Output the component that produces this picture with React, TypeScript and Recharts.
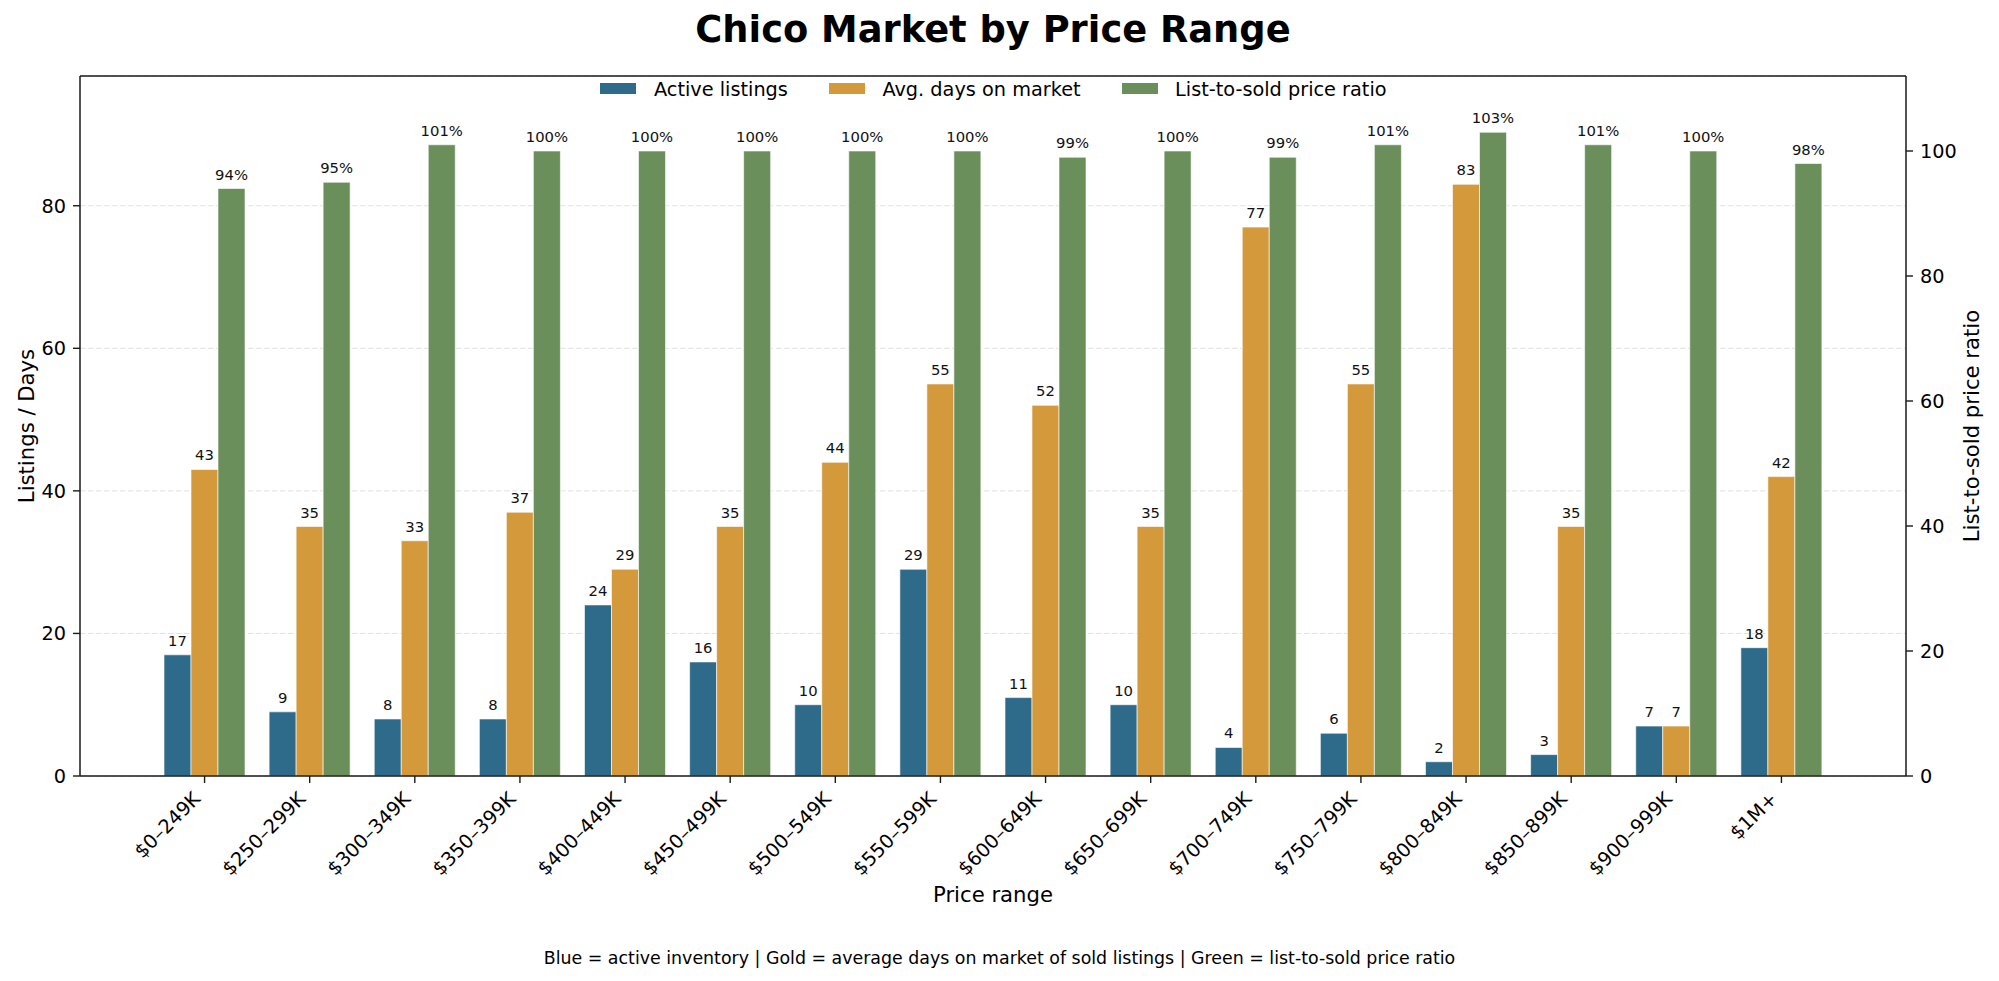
import { BarChart, Bar, XAxis, YAxis, CartesianGrid, LabelList, ReferenceLine } from 'recharts';

const PRICE_RANGES = [
  '$0–249K', '$250–299K', '$300–349K', '$350–399K', '$400–449K', '$450–499K',
  '$500–549K', '$550–599K', '$600–649K', '$650–699K', '$700–749K', '$750–799K',
  '$800–849K', '$850–899K', '$900–999K', '$1M+',
];
const ACTIVE_LISTINGS = [17, 9, 8, 8, 24, 16, 10, 29, 11, 10, 4, 6, 2, 3, 7, 18];
const AVG_DAYS = [43, 35, 33, 37, 29, 35, 44, 55, 52, 35, 77, 55, 83, 35, 7, 42];
const PRICE_RATIO = [94, 95, 101, 100, 100, 100, 100, 100, 99, 100, 99, 101, 103, 101, 100, 98];

const LEFT_TICKS = [0, 20, 40, 60, 80];
const RIGHT_TICKS = [0, 20, 40, 60, 80, 100];
const LEFT_MAX = 98.2;
const RIGHT_MAX = 112;

const SERIES = [
  { key: 'active', name: 'Active listings', color: '#2e6b8a', axis: 'left', suffix: '' },
  { key: 'days', name: 'Avg. days on market', color: '#d4993a', axis: 'left', suffix: '' },
  { key: 'ratio', name: 'List-to-sold price ratio', color: '#6a8f5b', axis: 'right', suffix: '%' },
];

const FONT = '"DejaVu Sans", sans-serif';
const SPINE = '#1a1a1a';

const RotatedTick = ({ x, y, payload }: any) => {
  const ax = x - 3;
  const ay = y + 17;
  return (
    <text
      x={ax}
      y={ay}
      textAnchor="end"
      fontSize={19.3}
      fill="#000"
      transform={`rotate(-45, ${ax}, ${ay})`}
    >
      {payload.value}
    </text>
  );
};

export default function App() {
  const data = PRICE_RANGES.map((range, i) => ({
    range,
    active: ACTIVE_LISTINGS[i],
    days: AVG_DAYS[i],
    ratio: PRICE_RATIO[i],
  }));

  return (
    <div
      style={{
        position: 'absolute',
        left: 0,
        top: 0,
        width: 1999,
        height: 981,
        background: '#fff',
        fontFamily: FONT,
        color: '#000',
      }}
    >
      <div
        style={{
          position: 'absolute',
          left: 0,
          width: 1986,
          top: 11.8,
          textAlign: 'center',
          fontSize: 36.8,
          fontWeight: 'bold',
          lineHeight: 1,
          whiteSpace: 'nowrap',
        }}
      >
        Chico Market by Price Range
      </div>

      <BarChart
        width={1999}
        height={981}
        data={data}
        margin={{ top: 76, right: 0, bottom: 85, left: 0 }}
        barGap={0}
        barSize={27}
      >
        <CartesianGrid
          yAxisId="left"
          vertical={false}
          stroke="#e2e2e2"
          strokeDasharray="5.5 2.5"
        />
        <XAxis
          dataKey="range"
          height={120}
          interval={0}
          padding={{ left: 72, right: 72 }}
          tickSize={7}
          tickMargin={0}
          tick={<RotatedTick />}
          tickLine={{ stroke: SPINE, strokeWidth: 1.4 }}
          axisLine={{ stroke: SPINE, strokeWidth: 1.5 }}
        />
        <YAxis
          yAxisId="left"
          width={80}
          domain={[0, LEFT_MAX]}
          ticks={LEFT_TICKS}
          tickSize={7}
          tickMargin={7}
          tick={{ fontSize: 19.3, fill: '#000' }}
          tickLine={{ stroke: SPINE, strokeWidth: 1.4 }}
          axisLine={{ stroke: SPINE, strokeWidth: 1.5 }}
        />
        <YAxis
          yAxisId="right"
          orientation="right"
          width={93}
          domain={[0, RIGHT_MAX]}
          ticks={RIGHT_TICKS}
          tickSize={7}
          tickMargin={7}
          tick={{ fontSize: 19.3, fill: '#000' }}
          tickLine={{ stroke: SPINE, strokeWidth: 1.4 }}
          axisLine={{ stroke: SPINE, strokeWidth: 1.5 }}
        />
        {/* top spine of the frame */}
        <ReferenceLine yAxisId="left" y={LEFT_MAX} stroke={SPINE} strokeWidth={1.5} />

        {SERIES.map((s) => (
          <Bar
            key={s.key}
            dataKey={s.key}
            name={s.name}
            yAxisId={s.axis}
            fill={s.color}
            stroke="#ffffff"
            strokeWidth={0.6}
            isAnimationActive={false}
          >
            <LabelList
              dataKey={s.key}
              position="top"
              offset={9}
              fontSize={14.8}
              fill="#111"
              formatter={(v: any) => `${v}${s.suffix}`}
            />
          </Bar>
        ))}
      </BarChart>

      {/* legend, upper centre inside the frame */}
      <div
        style={{
          position: 'absolute',
          left: 80,
          width: 1826,
          top: 77.8,
          display: 'flex',
          justifyContent: 'center',
          fontSize: 19.3,
          whiteSpace: 'nowrap',
        }}
      >
        {SERIES.map((s, i) => (
          <div
            key={s.key}
            style={{ display: 'flex', alignItems: 'flex-start', marginLeft: i === 0 ? 0 : 40 }}
          >
            <div
              style={{
                width: 38,
                height: 13.5,
                marginTop: 4,
                marginRight: 16.5,
                background: s.color,
                boxSizing: 'border-box',
                border: '0.6px solid #fff',
              }}
            />
            <span>{s.name}</span>
          </div>
        ))}
      </div>

      <div
        style={{
          position: 'absolute',
          left: 80,
          width: 1826,
          top: 884,
          textAlign: 'center',
          fontSize: 21.2,
          lineHeight: 1,
        }}
      >
        Price range
      </div>

      <div
        style={{
          position: 'absolute',
          left: 26.5,
          top: 426,
          transform: 'translate(-50%, -50%) rotate(-90deg)',
          fontSize: 21.2,
          lineHeight: 1,
          whiteSpace: 'nowrap',
        }}
      >
        Listings / Days
      </div>

      <div
        style={{
          position: 'absolute',
          left: 1972,
          top: 426,
          transform: 'translate(-50%, -50%) rotate(-90deg)',
          fontSize: 21.2,
          lineHeight: 1,
          whiteSpace: 'nowrap',
        }}
      >
        List-to-sold price ratio
      </div>

      <div
        style={{
          position: 'absolute',
          left: 0,
          width: 1999,
          top: 950.3,
          textAlign: 'center',
          fontSize: 17.4,
          lineHeight: 1,
          whiteSpace: 'nowrap',
        }}
      >
        Blue = active inventory | Gold = average days on market of sold listings | Green = list-to-sold price ratio
      </div>
    </div>
  );
}
